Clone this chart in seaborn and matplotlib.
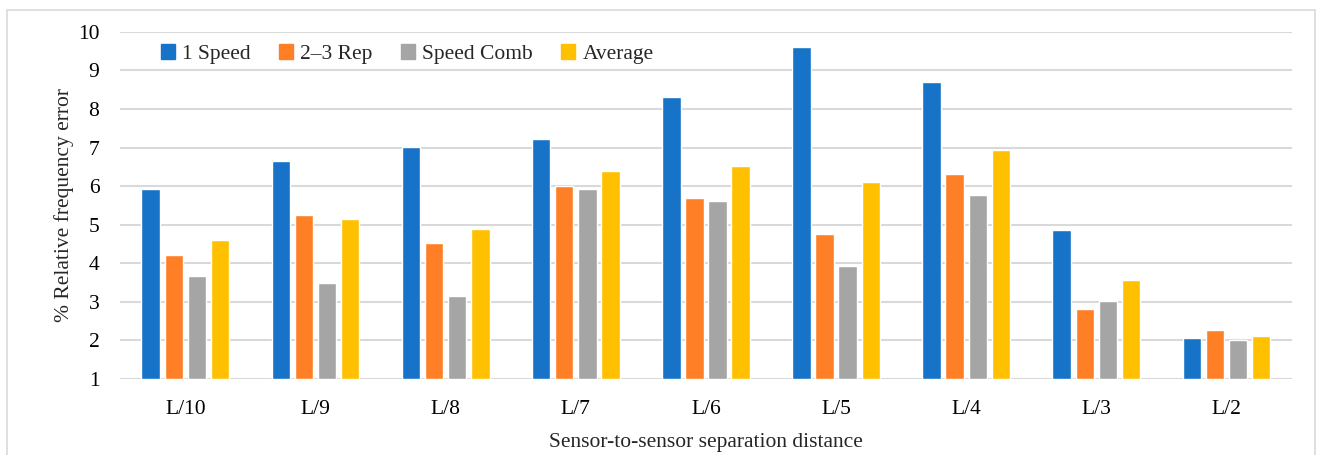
import numpy as np
import pandas as pd
import matplotlib
matplotlib.use("Agg")
import matplotlib.pyplot as plt
import seaborn as sns
from matplotlib.patches import Rectangle

categories = ["L/10", "L/9", "L/8", "L/7", "L/6", "L/5", "L/4", "L/3", "L/2"]
speed_1 = [5.93, 6.65, 7.02, 7.23, 8.30, 9.62, 8.70, 4.87, 2.06]
rep_2_3 = [4.22, 5.25, 4.53, 6.00, 5.69, 4.76, 6.32, 2.81, 2.28]
speed_comb = [3.67, 3.49, 3.15, 5.93, 5.61, 3.92, 5.76, 3.02, 2.00]
average = [4.60, 5.15, 4.89, 6.40, 6.52, 6.10, 6.93, 3.57, 2.11]
series_names = ["1 Speed", "2\u20133 Rep", "Speed Comb", "Average"]
colors = ["#1773C8", "#FF7F27", "#A5A5A5", "#FFC000"]
y_ticks = list(range(1, 11))

rows = []
for name, vals in zip(series_names, [speed_1, rep_2_3, speed_comb, average]):
    for c, v in zip(categories, vals):
        rows.append({"cat": c, "series": name, "value": v})
df = pd.DataFrame(rows)

sns.set_theme(style="white")
plt.rcParams["font.family"] = ["Liberation Serif", "DejaVu Serif"]

fig = plt.figure(figsize=(13.22, 4.55), dpi=100)
ax = fig.add_axes([0.091, 0.167, 0.886, 0.763])

sns.barplot(data=df, x="cat", y="value", hue="series", order=categories,
            hue_order=series_names, palette=colors, width=0.71, gap=0.2,
            saturation=1, ax=ax, legend=False)

# bars start from the axis floor at 1
for p in ax.patches:
    h = p.get_height()
    p.set_y(1)
    p.set_height(h - 1)

ax.set_ylim(1, 10)
ax.set_xlim(-0.5, len(categories) - 0.5)
ax.set_yticks(y_ticks)
ax.yaxis.grid(True, color="#D9D9D9", linewidth=1.5)
ax.set_axisbelow(True)
for s in ax.spines.values():
    s.set_visible(False)
ax.tick_params(axis="both", length=0, labelsize=15.5, colors="#000000")
ax.tick_params(axis="y", pad=15)
ax.tick_params(axis="x", pad=15)
ax.set_xlabel("Sensor-to-sensor separation distance", fontsize=15.5, labelpad=10)
ax.set_ylabel("% Relative frequency error", fontsize=15.5, labelpad=3)

handles = [Rectangle((0, 0), 1, 1, color=c) for c in colors]
leg = ax.legend(handles, series_names, loc="upper left", ncol=4, frameon=False,
                fontsize=15.5, bbox_to_anchor=(0.018, 1.02), handlelength=0.65,
                handleheight=0.7, handletextpad=0.35, columnspacing=1.3)

fig.patches.append(Rectangle((0.005, -0.02), 0.99, 0.997, transform=fig.transFigure,
                             fill=False, edgecolor="#D9D9D9", linewidth=1.2))

fig.savefig("out.png", dpi=100)
